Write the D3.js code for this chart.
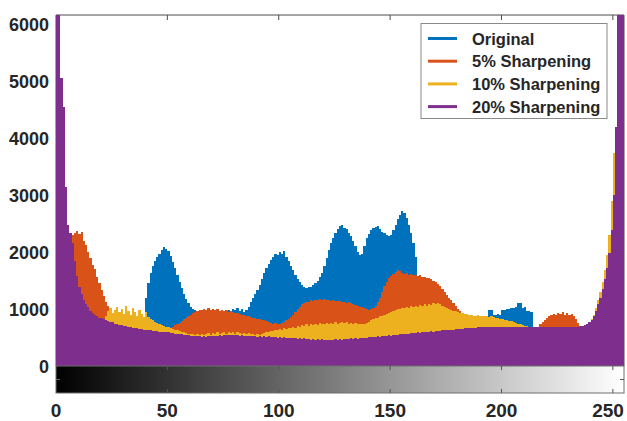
<!DOCTYPE html>
<html><head><meta charset="utf-8">
<script src="https://cdn.jsdelivr.net/npm/d3@7"></script>
<style>html,body{margin:0;padding:0;background:#fff;}svg{display:block;}</style>
</head><body>
<script>
// ---- data ----
const bins = d3.range(256);
const seriesNames = ["Original", "5% Sharpening", "10% Sharpening", "20% Sharpening"];
const seriesColors = ["#0072BD", "#D95319", "#EDB120", "#7E2F8E"];
const xTicks = [0, 50, 100, 150, 200, 250];
const yTicks = [0, 1000, 2000, 3000, 4000, 5000, 6000];

const original = [
5000,4000,3000,2800,2000,1700,1600,1500,1400,1300,
1200,1100,1000,950,900,870,850,830,810,800,
790,780,770,760,750,750,740,740,730,730,
720,730,720,720,730,740,760,780,800,820,
1200,1450,1640,1750,1850,1920,1960,2030,2080,2060,
2010,1930,1830,1720,1600,1480,1370,1270,1180,1100,
1040,1000,990,950,940,930,940,930,950,940,
950,940,960,950,970,960,980,990,970,1000,
980,1010,960,1000,950,990,1040,1120,1200,1270,
1340,1430,1530,1630,1720,1790,1860,1910,1960,1950,
2000,1970,2010,1920,1840,1760,1680,1600,1530,1470,
1420,1390,1370,1390,1380,1420,1460,1500,1560,1640,
1760,1900,2040,2150,2250,2330,2400,2460,2480,2430,
2400,2340,2280,2200,2100,2000,1940,1960,2100,2250,
2320,2380,2420,2440,2460,2400,2350,2330,2300,2290,
2300,2380,2480,2580,2650,2720,2680,2590,2470,2330,
2150,1920,1550,1400,1300,1200,1100,1050,1000,970,
950,930,910,900,890,880,870,860,850,850,
845,840,840,840,845,850,860,870,870,880,
870,880,870,880,980,975,900,890,905,895,
990,985,995,1000,1020,1010,1030,1100,1110,1020,
1030,960,970,950,680,660,650,650,650,650,
650,650,650,650,650,650,650,650,650,650,
650,650,650,650,650,650,650,700,720,750,
790,850,940,1050,1170,1300,1470,1670,1920,2300,
2850,3900,6000,7000,7500,7500];

const sharpen5 = [
6000,5000,3800,3500,2600,2150,2100,2300,2340,2370,
2310,2360,2200,2120,2000,1900,1780,1700,1560,1450,
1340,1220,1120,1050,970,900,880,870,860,850,
840,830,820,810,800,790,780,770,760,750,
740,720,710,700,690,680,670,660,655,650,
645,660,690,720,740,760,790,820,850,880,
900,930,950,960,975,990,1000,985,1010,990,
1000,980,995,970,985,960,975,950,960,940,
930,925,910,900,890,880,870,860,850,840,
830,820,810,800,790,770,760,740,750,730,
740,760,780,800,830,860,900,950,1000,1040,
1080,1100,1120,1130,1150,1140,1160,1150,1170,1160,
1170,1155,1165,1145,1150,1140,1135,1140,1120,1130,
1110,1115,1100,1090,1070,1060,1040,1030,1010,1000,
990,1000,1010,1060,1130,1200,1300,1400,1480,1540,
1580,1620,1650,1690,1660,1640,1610,1630,1600,1620,
1590,1600,1575,1590,1560,1570,1540,1550,1520,1500,
1470,1440,1400,1350,1300,1250,1200,1150,1100,1050,
1000,960,900,880,870,860,850,840,830,825,
820,815,810,800,795,790,780,775,765,760,
750,740,730,720,710,700,690,680,670,660,
650,650,645,650,660,670,690,730,770,810,
850,870,890,920,900,935,910,940,900,930,
895,910,870,820,760,700,680,690,710,740,
780,840,930,1050,1170,1320,1490,1690,1950,2350,
2900,4000,6500,7500,8000,8000];

const sharpen10 = [
7000,5500,4200,3800,2700,2200,2000,1800,1550,1350,
1200,1100,1030,980,940,900,870,850,830,820,
810,800,880,960,1010,930,990,1040,950,1000,
920,1050,960,900,1020,940,880,990,910,860,
940,860,820,800,780,760,740,720,700,690,
680,670,650,640,625,615,600,590,580,570,
560,555,550,560,545,570,540,560,580,550,
575,560,590,565,580,595,570,600,580,595,
570,590,575,565,580,560,575,555,570,550,
565,545,560,575,590,600,620,610,640,625,
650,640,665,650,675,660,690,675,700,690,
715,700,730,710,740,720,745,725,750,730,
740,755,735,760,740,770,745,760,775,750,
765,745,760,740,755,735,745,730,740,760,
780,800,820,835,850,870,880,900,915,930,
950,965,980,995,1005,1020,1010,1035,1020,1045,
1030,1055,1040,1065,1050,1080,1060,1095,1075,1110,
1085,1105,1090,1060,1040,1010,1000,985,970,960,
945,935,925,915,905,900,895,885,880,890,
875,880,870,885,865,875,860,850,845,830,
825,815,805,795,785,770,760,745,735,720,
710,700,690,680,670,670,665,670,660,665,
670,660,665,670,660,665,670,660,665,670,
665,660,670,665,670,680,690,710,740,780,
830,900,1020,1150,1300,1480,1680,1950,2300,2900,
3740,4100,7000,8000,8500,8500];

const sharpen20 = [
9000,7200,5050,4550,3150,2480,2330,2150,1850,1580,
1390,1260,1160,1090,1030,970,930,900,880,850,
845,820,815,790,780,765,745,740,725,715,
700,705,690,685,675,670,660,650,655,640,
635,630,625,620,615,610,600,605,595,590,
590,585,580,570,565,560,555,550,545,540,
535,530,525,520,520,515,520,510,520,525,
530,520,535,540,530,545,540,550,545,550,
540,545,535,540,530,535,525,530,520,525,
515,520,510,520,515,520,510,505,515,500,
510,495,505,500,490,495,485,490,480,490,
475,485,470,480,465,475,465,470,460,470,
460,465,455,460,465,470,460,475,465,470,
480,470,485,475,490,480,495,490,500,495,
505,510,505,515,520,515,525,530,525,540,
535,545,550,545,555,560,555,570,565,575,
580,575,590,585,595,600,595,605,610,605,
615,620,615,625,630,625,635,640,635,645,
650,645,655,660,665,660,670,675,670,680,
685,680,690,685,690,680,690,685,680,690,
685,680,690,685,680,690,685,680,690,685,
680,690,685,680,690,685,680,690,680,685,
690,680,685,690,680,685,690,680,685,690,
685,680,690,685,690,695,700,720,740,770,
810,870,960,1080,1200,1350,1520,1720,1980,2380,
3000,4200,8000,9000,9500,9500];

const seriesValues = [original, sharpen5, sharpen10, sharpen20];

// ---- chart ----
const W = 627, H = 421;
const L = 56, R = 624, T = 15, B = 366, CB = 393;
const font = "'Liberation Sans', Arial, Helvetica, sans-serif";
const axisColor = "#4d4d4d";

const svg = d3.select("body").append("svg").attr("width", W).attr("height", H)
  .style("background", "#fff");

const x = d3.scaleLinear().domain([0, 255]).range([L, R]);
const y = d3.scaleLinear().domain([0, 6160]).range([B, T]);

// axes box (behind data)
const axG = svg.append("g");
axG.append("path").attr("d", `M${L},${B}V${T}H${R}V${B}`)
  .attr("fill", "none").attr("stroke", axisColor).attr("stroke-width", 1);
axG.selectAll(".tt").data(xTicks.filter(d => d > 0)).join("line")
  .attr("x1", d => x(d)).attr("x2", d => x(d))
  .attr("y1", T).attr("y2", T + 5)
  .attr("stroke", axisColor);
axG.selectAll(".yt").data(yTicks).join("line")
  .attr("x1", R).attr("x2", R - 5)
  .attr("y1", d => y(d)).attr("y2", d => y(d))
  .attr("stroke", axisColor);

// clip
svg.append("defs").append("clipPath").attr("id", "plotclip")
  .append("rect").attr("x", L).attr("y", T).attr("width", R - L).attr("height", B - T);

const area = d3.area()
  .x((d, i) => x(i))
  .y0(y(0))
  .y1(d => y(d))
  .curve(d3.curveStepAfter);

const dataG = svg.append("g").attr("clip-path", "url(#plotclip)");
seriesValues.forEach((vals, k) => {
  const pts = bins.map(i => vals[i]).concat([vals[255]]);
  dataG.append("path").datum(pts)
    .attr("d", area)
    .attr("fill", seriesColors[k])
    .attr("stroke", "none")
    .attr("shape-rendering", "crispEdges");
});

// colorbar
const grad = svg.select("defs").append("linearGradient").attr("id", "gray")
  .attr("x1", "0%").attr("x2", "100%").attr("y1", "0%").attr("y2", "0%");
grad.append("stop").attr("offset", "0%").attr("stop-color", "#000");
grad.append("stop").attr("offset", "100%").attr("stop-color", "#fff");
svg.append("rect").attr("x", x(0)).attr("y", B).attr("width", x(255) - x(0)).attr("height", CB - B)
  .attr("fill", "url(#gray)").attr("stroke", "#6e6e6e").attr("stroke-width", 1);
const cbT = svg.append("g");
cbT.selectAll(".a").data(xTicks.filter(d => d > 0)).join("line")
  .attr("x1", d => x(d)).attr("x2", d => x(d)).attr("y1", B).attr("y2", B + 4)
  .attr("stroke", "#555");
cbT.selectAll(".b").data(xTicks.filter(d => d > 0)).join("line")
  .attr("x1", d => x(d)).attr("x2", d => x(d)).attr("y1", CB).attr("y2", CB - 4)
  .attr("stroke", "#555");
cbT.append("line").attr("x1", L).attr("x2", L + 4).attr("y1", (B + CB) / 2).attr("y2", (B + CB) / 2).attr("stroke", "#666");
cbT.append("line").attr("x1", R).attr("x2", R - 4).attr("y1", (B + CB) / 2).attr("y2", (B + CB) / 2).attr("stroke", "#555");

// tick labels
svg.append("g").selectAll("text").data(yTicks).join("text")
  .attr("x", 49).attr("y", d => y(d) + 6.5)
  .attr("text-anchor", "end")
  .attr("font-family", font).attr("font-weight", "bold").attr("font-size", 18)
  .attr("fill", "#262626")
  .text(d => d);
svg.append("g").selectAll("text").data(xTicks).join("text")
  .attr("x", d => Math.min(x(d), 608)).attr("y", 417)
  .attr("text-anchor", "middle")
  .attr("font-family", font).attr("font-weight", "bold").attr("font-size", 19)
  .attr("fill", "#262626")
  .text(d => d);

// legend
const lg = svg.append("g");
lg.append("rect").attr("x", 421).attr("y", 23.5).attr("width", 186).attr("height", 95)
  .attr("fill", "#fff").attr("stroke", "#8a8a8a").attr("stroke-width", 1);
seriesNames.forEach((name, k) => {
  const cy = 38.5 + k * 22.7;
  lg.append("line").attr("x1", 428).attr("x2", 457).attr("y1", cy).attr("y2", cy)
    .attr("stroke", seriesColors[k]).attr("stroke-width", 3);
  lg.append("text").attr("x", 472).attr("y", cy + 6)
    .attr("font-family", font).attr("font-weight", "bold").attr("font-size", 16.5)
    .attr("fill", "#262626").text(name);
});
</script>
</body></html>
